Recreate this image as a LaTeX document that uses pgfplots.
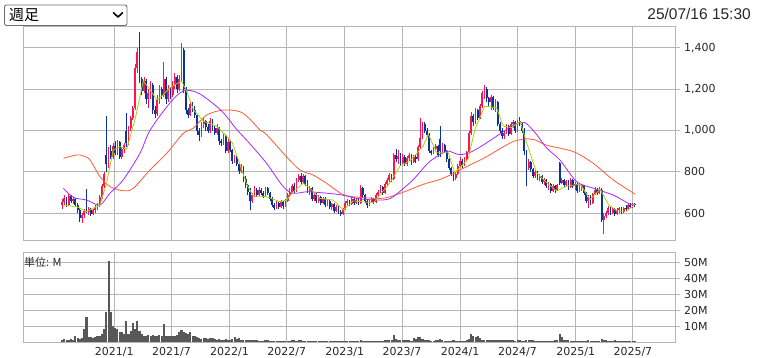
\documentclass[border=0pt]{standalone}
\usepackage{fontspec}
\setmainfont{DejaVu Sans}
\newfontfamily\lib{Liberation Sans}
\newfontfamily\cjk{Noto Sans CJK JP}
\usepackage{pgfplots}
\usepackage{pgfplotstable}
\pgfplotsset{compat=1.18}
\definecolor{gridc}{RGB}{182,182,182}
\definecolor{upc}{RGB}{255,20,80}
\definecolor{dnc}{RGB}{10,50,160}
\definecolor{mas}{RGB}{170,210,0}
\definecolor{mam}{RGB}{170,40,255}
\definecolor{mal}{RGB}{255,90,50}
\definecolor{volc}{RGB}{88,88,88}
\definecolor{txtc}{RGB}{40,40,40}

\pgfplotstableread{
x o h l c
1 640 670 620 655
2 655 690 640 675
4 640 695 635 685
6 660 680 645 670
10 575 600 555 590
11 590 620 575 610
13 605 630 590 620
15 595 620 590 615
16 615 640 600 630
17 630 650 615 640
18 640 690 630 680
19 680 740 670 730
20 730 800 720 790
22 840 920 820 900
24 870 940 860 925
26 890 955 880 945
28 870 920 860 910
29 910 940 890 930
31 940 1020 930 1010
32 1010 1070 1000 1060
33 1060 1120 1050 1110
34 1110 1320 1100 1300
35 1300 1400 1280 1380
38 1190 1260 1180 1240
40 1150 1200 1110 1180
41 1180 1240 1150 1220
44 1080 1170 1070 1150
45 1150 1220 1130 1200
47 1170 1332 1160 1250
49 1150 1220 1140 1200
51 1170 1240 1160 1220
52 1220 1280 1200 1260
54 1200 1270 1190 1250
55 1250 1424 1240 1390
59 1075 1140 1070 1130
64 980 1040 970 1030
65 1030 1060 1010 1045
68 1000 1060 990 1045
71 990 1030 980 1010
74 940 985 930 975
76 900 960 890 945
79 855 880 845 870
82 805 840 795 825
87 660 700 650 690
88 690 730 680 715
90 690 725 685 715
93 685 725 680 720
98 625 660 620 650
100 630 665 625 655
102 635 670 630 660
103 660 700 655 690
104 690 720 680 705
105 705 740 695 730
107 710 770 705 760
108 760 790 750 780
110 750 790 745 780
113 710 730 690 720
115 670 700 660 690
117 660 690 650 680
119 650 680 645 670
121 640 670 635 660
123 630 650 615 645
125 610 640 605 630
128 595 625 590 620
129 620 660 615 650
130 650 670 640 660
132 645 680 640 670
134 650 675 645 665
136 650 735 645 720
140 640 665 635 655
141 655 680 650 670
143 655 700 650 690
144 690 715 680 705
145 705 735 700 725
147 700 750 695 740
148 740 770 730 760
149 760 795 750 785
151 765 890 760 880
153 860 905 840 875
155 845 885 840 870
157 840 875 830 865
158 865 890 855 880
160 850 880 845 870
162 860 930 855 920
163 920 1062 910 965
164 965 1040 960 1030
169 890 920 885 910
170 910 935 900 925
173 900 940 890 930
179 770 800 760 790
180 790 840 785 830
181 830 870 820 855
183 835 870 830 860
184 860 900 855 895
185 895 1000 890 990
186 990 1090 980 1070
188 1040 1110 1030 1100
190 1060 1130 1055 1120
191 1120 1190 1110 1180
192 1180 1218 1150 1200
195 1140 1170 1100 1160
197 1110 1150 1090 1140
201 975 1000 958 990
202 990 1030 985 1020
204 985 1040 980 1030
205 1030 1050 1010 1040
207 1000 1050 995 1045
212 820 860 810 850
215 780 810 770 800
217 770 790 755 780
219 750 770 735 760
221 730 750 715 740
223 710 740 705 730
225 715 740 710 735
227 745 770 740 760
229 735 760 730 755
231 725 770 720 760
233 730 750 715 740
235 710 735 705 725
236 725 740 710 735
239 660 690 625 680
241 650 700 645 695
242 695 725 690 715
244 700 725 695 715
246 570 600 500 585
247 585 610 575 600
248 600 635 590 625
250 600 630 595 620
252 595 625 590 615
253 615 630 600 625
255 605 630 600 625
257 620 645 615 640
259 630 650 625 645
}\upt

\pgfplotstableread{
x o h l c
3 675 680 630 640
5 685 690 650 660
7 670 675 630 640
8 640 650 600 615
9 615 625 560 575
12 650 717 600 605
14 620 625 585 595
21 880 1070 800 840
23 900 930 860 870
25 925 950 880 890
27 945 950 860 870
30 1000 1086 920 940
36 1380 1475 1230 1250
37 1250 1260 1170 1190
39 1240 1250 1130 1150
42 1220 1230 1080 1100
43 1100 1120 1060 1080
46 1200 1210 1150 1170
48 1250 1260 1130 1150
50 1200 1210 1150 1170
53 1260 1270 1180 1200
56 1390 1400 1180 1200
57 1200 1210 1080 1100
58 1100 1110 1060 1075
60 1130 1140 1090 1100
61 1100 1120 1060 1075
62 1075 1080 980 1000
63 1000 1010 950 980
66 1045 1050 1000 1015
67 1015 1030 990 1000
69 1045 1055 1000 1010
70 1010 1020 980 990
72 1010 1015 930 950
73 950 960 925 940
75 975 980 890 900
77 945 950 895 905
78 905 910 840 855
80 870 875 830 840
81 840 845 790 805
83 825 830 750 765
84 765 780 720 735
85 735 740 690 705
86 705 720 615 660
89 715 720 680 690
91 715 720 690 700
92 700 710 675 685
94 720 725 690 700
95 700 705 660 670
96 670 680 630 640
97 640 650 615 625
99 650 655 620 630
101 655 660 620 635
106 730 745 700 710
109 780 795 740 750
111 780 785 730 740
112 740 760 700 710
114 720 725 660 670
116 690 700 650 660
118 680 685 640 650
120 670 680 630 640
122 660 665 620 630
124 645 650 600 610
126 630 635 595 605
127 605 615 588 595
131 660 665 635 645
133 670 675 640 650
135 665 670 640 650
137 720 725 680 690
138 690 695 650 660
139 660 665 625 640
142 670 675 645 655
146 725 730 690 700
150 785 790 750 765
152 880 910 850 860
154 875 890 830 845
156 870 880 830 840
159 880 885 835 850
161 870 880 845 860
165 1030 1040 990 1000
166 1000 1010 970 980
167 980 990 890 900
168 900 905 880 890
171 925 930 870 880
172 960 1021 870 900
174 930 935 890 900
175 900 905 850 860
176 860 865 810 820
177 820 825 780 790
178 790 800 756 770
182 855 860 820 835
187 1070 1080 1020 1040
189 1100 1105 1050 1060
193 1200 1210 1140 1155
194 1155 1160 1120 1140
196 1160 1165 1100 1110
198 1140 1145 1020 1030
199 1030 1040 990 1000
200 1000 1010 960 975
203 1020 1025 975 985
206 1040 1045 990 1000
208 1045 1066 1020 1030
209 1030 1035 990 1000
210 1000 1010 880 900
211 900 905 730 820
213 850 855 800 815
214 815 820 770 780
216 800 805 760 770
218 780 785 740 750
220 760 765 720 730
222 740 745 700 710
224 730 735 700 715
226 845 850 735 745
228 760 765 725 735
230 755 760 715 725
232 760 765 720 730
234 740 745 700 710
237 735 736 690 700
238 700 705 650 660
240 680 690 640 650
243 715 720 690 700
245 715 720 560 570
249 625 630 590 600
251 620 625 585 595
254 625 630 595 605
256 625 640 610 620
258 640 650 625 630
260 645 650 630 640
}\dnt

\pgfplotsset{
  chartbase/.style={
    scale only axis, width=652pt,
    xmin=-16.7, xmax=278.2,
    axis line style={gridc, line width=0.9pt},
    xtick={24.57,50.43,76.71,102.57,128.86,154.71,181,207,233.29,259.14},
    grid=major, major grid style={gridc, line width=0.9pt},
    ytick pos=right, yticklabel pos=right,
    ytick style={gridc, line width=0.9pt},
    xtick style={draw=none},
    major tick length=5pt, tick align=outside,
    yticklabel style={font=\fontsize{11}{11}\selectfont, text=txtc, xshift=0.5pt},
    xticklabel style={font=\fontsize{11}{11}\selectfont, text=txtc, inner sep=0pt, yshift=0pt},
    /pgf/number format/assume math mode=true,
    /pgf/number format/1000 sep={,},
  },
  wick/.style={only marks, mark=*, mark size=0pt, mark options={draw=none, fill=none}, forget plot,
    error bars/.cd, y dir=plus, y explicit, error mark=none,
    error bar style={draw=#1, line width=0.8pt}},
  body/.style={only marks, mark=*, mark size=0pt, mark options={draw=none, fill=none}, forget plot,
    error bars/.cd, y dir=plus, y explicit, error mark=none,
    error bar style={draw=#1, line width=1.8pt}},
}

\begin{document}
\begin{tikzpicture}
\path[use as bounding box] (0pt,0pt) rectangle (759pt,-357pt);

% dropdown
\draw[rounded corners=2pt, color={rgb,255:red,110;green,110;blue,110}, line width=0.9pt] (4.5pt,-5pt) rectangle (127pt,-25.5pt);
\node[anchor=west, inner sep=0pt, text=black] at (9pt,-15pt) {\cjk\fontsize{15}{15}\selectfont 週足};
\draw[line width=1.6pt, line cap=round, line join=round] (113.5pt,-12.8pt) -- (118pt,-17pt) -- (122.5pt,-12.8pt);
% timestamp
\node[anchor=base east, inner sep=0pt, text=txtc] at (751pt,-19pt) {\lib\fontsize{15.5}{15.5}\selectfont 25/07/16 15:30};

% price axis
\begin{axis}[chartbase,
  at={(23pt,-26pt)}, anchor=north west, height=214pt,
  ymin=471, ymax=1505, ytick={600,800,1000,1200,1400},
  xticklabels={},
]
\addplot[wick=upc] table[x=x, y=l, y error plus expr=\thisrow{h}-\thisrow{l}] {\upt};
\addplot[body=upc] table[x=x, y=o, y error plus expr=\thisrow{c}-\thisrow{o}] {\upt};
\addplot[wick=dnc] table[x=x, y=l, y error plus expr=\thisrow{h}-\thisrow{l}] {\dnt};
\addplot[body=dnc] table[x=x, y=c, y error plus expr=\thisrow{o}-\thisrow{c}] {\dnt};

% long MA
\addplot[mal, line width=0.8pt, smooth, tension=0.5, mark=none] coordinates {
(1.6,866)(7.6,882)(10.6,877)(13.6,858)(18.1,777)(22.6,729)(28.6,709)(33.2,721)(40.7,809)(48.3,890)(55.8,986)(60.3,1011)(66.4,1075)(73.9,1099)(81.4,1091)(86,1054)(90.5,1002)(93.5,980)(102.5,873)(108.6,809)(114.5,785)(120.6,745)(128.2,690)(135.7,677)(144.8,672)(149.3,680)(156.8,708)(164.3,740)(172,764)(178.6,796)(184.6,829)(192.2,869)(199.8,917)(205.8,950)(211.8,960)(214.9,955)(220.2,929)(232.2,898)(241.3,841)(250.3,761)(260.1,693)};
% mid MA
\addplot[mam, line width=0.8pt, smooth, tension=0.5, mark=none] coordinates {
(1.6,721)(6.1,677)(12.1,664)(18.1,640)(22.6,697)(28.6,761)(36.2,890)(40.7,1000)(49.8,1134)(55.8,1191)(61.8,1185)(67.9,1142)(73.9,1086)(79.9,1006)(86,935)(93.5,841)(101,729)(105.5,697)(111.6,704)(117.6,700)(126.7,690)(135.7,670)(144.8,664)(149.3,671)(153.1,700)(159.9,764)(166.6,844)(172,885)(175.6,901)(180.1,885)(184.6,890)(190.7,925)(199.8,989)(205.8,1030)(210.3,1038)(214.9,990)(220.2,915)(226.2,857)(233.7,753)(241.3,721)(250.3,688)(257.1,648)(260.1,640)};
% short MA
\addplot[mas, line width=0.8pt, mark=none] coordinates {
(1.6,640)(7.6,632)(12.1,608)(18.1,640)(21.1,745)(24.1,906)(27.1,922)(30.2,910)(34,1054)(37.7,1240)(40.7,1199)(43.7,1150)(45.2,1158)(49.8,1207)(55,1239)(57.3,1191)(60.3,1102)(64.8,1046)(70.9,1021)(75.4,973)(78,940)(81,850)(84.5,740)(87.4,685)(93.5,680)(99.5,656)(102.5,664)(105.5,704)(110.1,745)(113.1,721)(117.6,672)(123.6,664)(128.2,616)(132.7,660)(141.8,651)(149.3,748)(153.8,829)(158.3,853)(164.3,925)(166.6,982)(170.4,893)(175.6,893)(178.6,796)(184.6,861)(187.7,1006)(192.2,1118)(197.5,1110)(200.5,1021)(204.3,1014)(208.1,1045)(211.1,941)(214.1,844)(215.6,796)(220.2,748)(224.7,708)(229.2,732)(235.3,740)(239.8,668)(244.3,716)(248.1,643)(251.9,611)(256.4,611)(260.1,643)};
\end{axis}

% volume axis
\begin{axis}[chartbase,
  at={(23pt,-342pt)}, anchor=south west, height=90pt,
  ymin=0, ymax=56.5, ytick={10,20,30,40,50},
  yticklabels={10M,20M,30M,40M,50M},
  xticklabels={2021/1,2021/7,2022/1,2022/7,2023/1,2023/7,2024/1,2024/7,2025/1,2025/7},
]
\addplot[ycomb, volc, line width=2.1pt, mark=none] coordinates {
(1,1.5)(2,2)(3,1.5)(4,1.5)(5,2)(6,1.5)(7,3.5)(8,2.5)(9,2)(10,2.5)(11,8)(12,15.5)(13,3)(14,3)(15,2.5)(16,3)(17,3.5)(18,4)(19,5)(20,8)
(21,19)(22,51)(23,19)(24,10)(25,9)(26,8)(27,6)(28,6)(29,5)(30,13.5)(31,5)(32,7)(33,12)(34,8)(35,13)(36,7)(37,5)(38,4)(39,4)(40,4.5)
(41,4)(42,4.5)(43,4)(44,4)(45,4.5)(46,4)(47,11)(48,4)(49,3.5)(50,3.5)(51,4)(52,4)(53,4.5)(54,6)(55,7.5)(56,6.5)(57,5.5)(58,5)(59,6)(60,4)
(61,3.5)(62,3)(63,2.5)(64,2)(65,2.5)(66,2.5)(67,2)(68,2.5)(69,2.5)(70,2)(71,1.5)(72,2)(73,1.5)(74,1.5)(75,2)(76,1.5)(77,1.5)(78,2)(79,3)(80,2)
(81,2.5)(82,1.5)(83,1)(84,1)(85,1)(86,1)(87,1)(88,1)(89,1.2)(90,0.8)(91,0.8)(92,0.8)(93,1.2)(94,1)(95,0.8)(96,0.8)(97,0.6)(98,0.6)(99,0.8)(100,0.6)
(101,0.8)(102,0.5)(103,0.8)(104,0.8)(105,1)(106,1)(107,0.8)(108,1.2)(109,1)(110,0.8)(111,0.5)(112,0.6)(113,0.6)(114,0.8)(115,0.5)(116,0.5)(117,0.5)(118,0.5)(119,0.5)(120,0.8)
(121,0.8)(122,0.8)(123,0.5)(124,0.5)(125,0.8)(126,0.5)(127,0.5)(128,0.5)(129,0.5)(130,0.5)(131,0.5)(132,0.8)(133,0.5)(134,0.5)(135,0.6)(136,1)(137,0.5)(138,0.5)(139,0.5)(140,0.5)
(141,0.5)(142,0.5)(143,0.6)(144,0.8)(145,0.8)(146,0.8)(147,1)(148,1)(149,1.5)(150,1.2)(151,4.5)(152,2)(153,1.5)(154,1)(155,1.5)(156,1)(157,1)(158,1)(159,0.8)(160,2.5)
(161,2)(162,3)(163,3)(164,2)(165,1)(166,1)(167,1)(168,0.8)(169,0.8)(170,1)(171,1.5)(172,2)(173,1)(174,0.8)(175,0.8)(176,0.5)(177,0.8)(178,1)(179,0.8)(180,0.8)
(181,0.8)(182,0.8)(183,0.8)(184,1)(185,2)(186,5)(187,3.5)(188,3)(189,3.5)(190,2.5)(191,1.5)(192,1.5)(193,1)(194,1)(195,1)(196,1.5)(197,1.5)(198,1.5)(199,1)(200,1.5)
(201,1)(202,1)(203,1)(204,1.2)(205,1)(206,0.8)(207,1)(208,1)(209,0.8)(210,0.8)(211,1.5)(212,1)(213,1)(214,1)(215,0.8)(216,0.8)(217,0.8)(218,0.8)(219,0.5)(220,0.8)
(221,0.5)(222,0.5)(223,0.8)(224,1)(225,1.5)(226,5)(227,3)(228,1.5)(229,1)(230,1)(231,0.8)(232,0.8)(233,0.8)(234,0.5)(235,0.5)(236,0.8)(237,0.8)(238,0.8)(239,1)(240,0.8)
(241,0.5)(242,0.5)(243,0.5)(244,0.8)(245,2)(246,1.5)(247,1)(248,0.8)(249,0.5)(250,0.8)(251,1)(252,0.5)(253,0.5)(254,0.5)(255,0.5)(256,0.5)(257,0.5)(258,0.8)(259,0.5)(260,0.5)};
\end{axis}
\node[anchor=west, inner sep=0pt, text=txtc] at (24pt,-262.5pt) {\cjk\fontsize{11}{11}\selectfont 単位: M};
\end{tikzpicture}
\end{document}
